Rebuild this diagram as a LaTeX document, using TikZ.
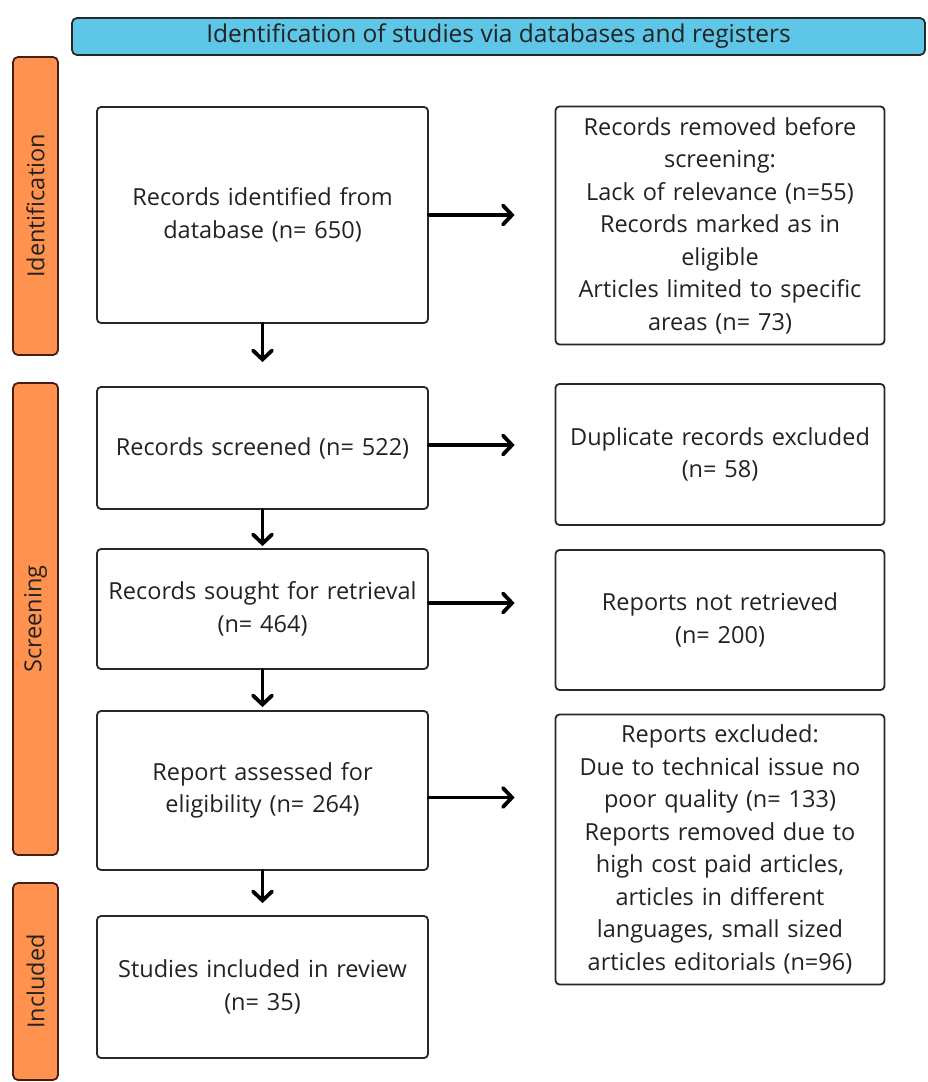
\documentclass[tikz,border=0pt]{standalone}
\usepackage{fontspec}
\setmainfont{Open Sans}
\usetikzlibrary{arrows.meta,positioning}
\definecolor{headblue}{RGB}{94,198,230}
\definecolor{phaseorange}{RGB}{255,146,78}
\definecolor{phaseedge}{RGB}{70,30,20}
\definecolor{boxedge}{RGB}{40,40,40}
\definecolor{inktext}{RGB}{34,34,34}

\begin{document}
\begin{tikzpicture}[x=1pt,y=-1pt,
    stagebox/.style={draw=boxedge,line width=1.8pt,rounded corners=4pt,fill=white,
      text=inktext,align=center,inner sep=3pt,
      font=\fontsize{23.5}{32.5}\selectfont},
    leftbox/.style={stagebox,minimum width=331pt,text width=325pt},
    rightbox/.style={stagebox,minimum width=329pt,text width=323pt},
    phasebar/.style={draw=phaseedge,line width=1.8pt,rounded corners=5pt,fill=phaseorange,
      minimum height=45pt,rotate=90,text=inktext,font=\fontsize{23.5}{26}\selectfont},
    flow/.style={line width=3.8pt,-{Straight Barb[length=9pt,width=19pt,line cap=round]},line cap=round}]
        \useasboundingbox (0,0) rectangle (928,1082);
        % Titulo
        \node[draw=boxedge,line width=1.8pt,rounded corners=5pt,fill=headblue,
          minimum width=853pt,minimum height=37pt,text=inktext,
          font=\fontsize{24.5}{26}\selectfont] (head) at (498.5,36.5)
          {Identification of studies via databases and registers};
        % Fases
        \node[phasebar,minimum width=298pt] (ident) at (35.5,206) {Identification};
        \node[phasebar,minimum width=472pt] (screen) at (35.5,619) {Screening};
        \node[phasebar,minimum width=197pt] (incl) at (35.5,981.5) {Included};
        % Columna izquierda
        \node[leftbox,minimum height=216pt] (found) at (262.5,215)
          {Records identified from\\database (n= 650)};
        \node[leftbox,minimum height=122pt] (screened) at (262.5,448)
          {Records screened (n= 522)};
        \node[leftbox,minimum height=120pt] (sought) at (262.5,609)
          {Records sought for retrieval\\(n= 464)};
        \node[leftbox,minimum height=159pt] (assessed) at (262.5,790.5)
          {Report assessed for\\eligibility (n= 264)};
        \node[leftbox,minimum height=142pt] (included) at (262.5,987)
          {Studies included in review\\(n= 35)};
        % Columna derecha
        \node[rightbox,minimum height=238pt] (removed) at (720,225.5)
          {Records removed before\\screening:\\Lack of relevance (n=55)\\Records marked as in\\eligible\\Articles limited to specific\\areas (n= 73)};
        \node[rightbox,minimum height=141pt] (dupl) at (720,454.5)
          {Duplicate records excluded\\(n= 58)\\[30pt]};
        \node[rightbox,minimum height=140pt] (notret) at (720,620)
          {Reports not retrieved\\(n= 200)\\[30pt]};
        \node[rightbox,minimum height=270pt] (excl) at (720,849.5)
          {Reports excluded:\\Due to technical issue no\\poor quality (n= 133)\\Reports removed due to\\high cost paid articles,\\articles in different\\languages, small sized\\articles editorials (n=96)};
        % Flechas
        \draw[flow,shorten >=24pt] (found) -- (screened);
        \draw[flow,shorten >=2pt] (screened) -- (sought);
        \draw[flow,shorten >=3pt] (sought) -- (assessed);
        \draw[flow,shorten >=12pt] (assessed) -- (included);
        \draw[flow,shorten >=40pt] (found.east) -- (found.east -| removed.west);
        \draw[flow,shorten >=40pt] ([yshift=3pt]screened.east) -- ([yshift=3pt]screened.east -| dupl.west);
        \draw[flow,shorten >=40pt] ([yshift=6pt]sought.east) -- ([yshift=6pt]sought.east -| notret.west);
        \draw[flow,shorten >=40pt] ([yshift=-7pt]assessed.east) -- ([yshift=-7pt]assessed.east -| excl.west);
      \end{tikzpicture}
\end{document}
